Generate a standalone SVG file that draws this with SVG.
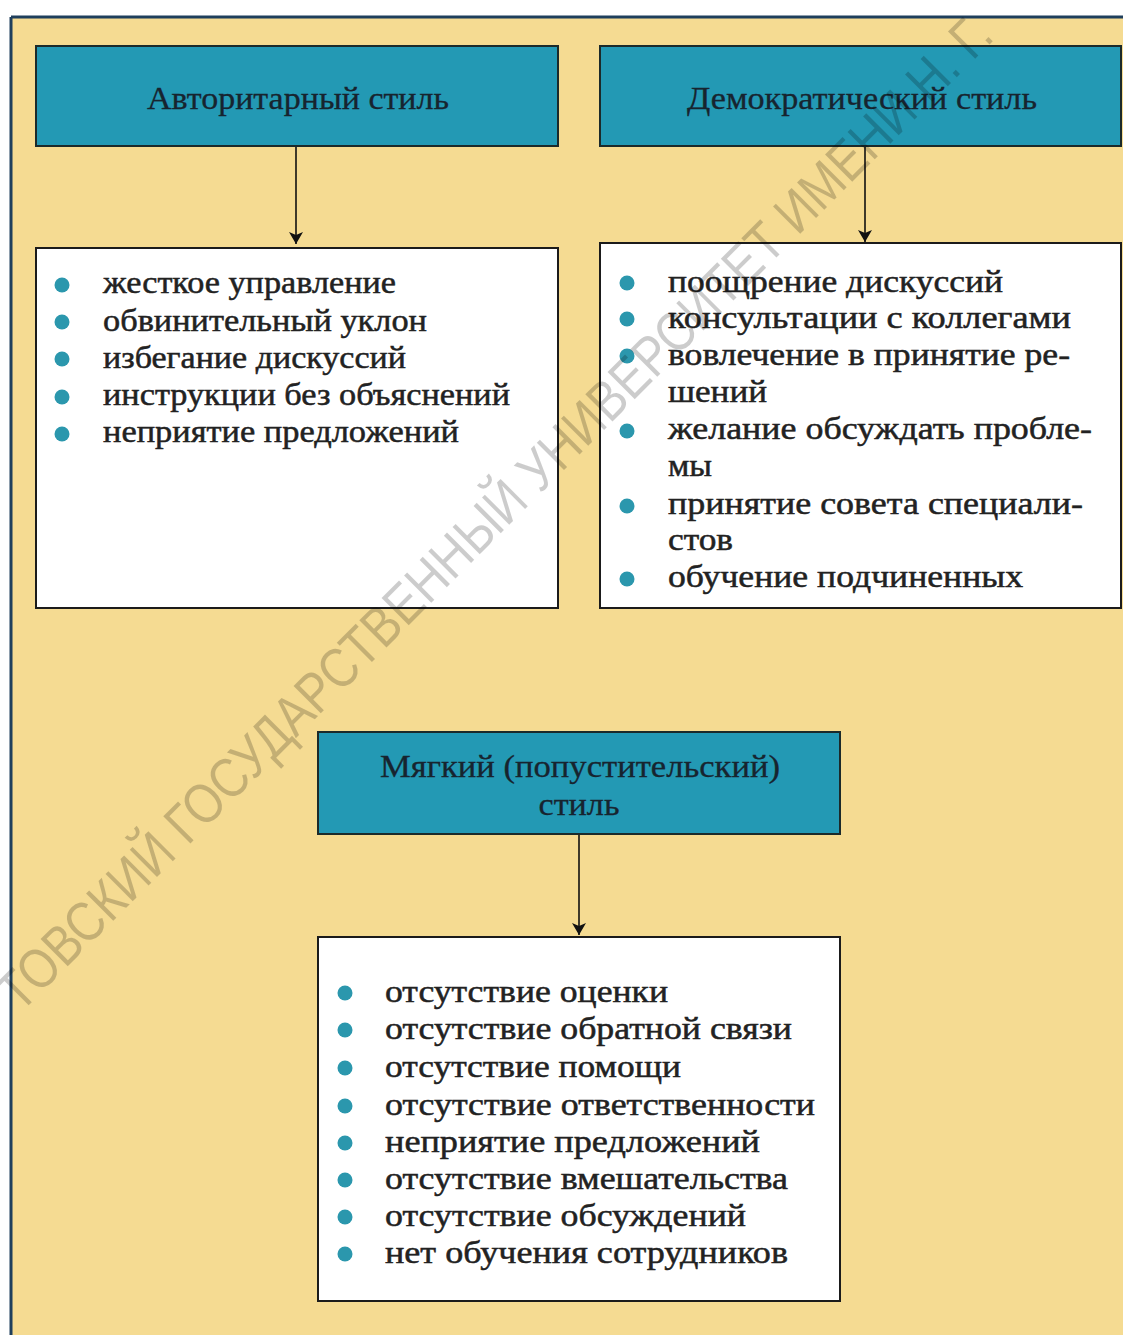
<svg xmlns="http://www.w3.org/2000/svg" width="1123" height="1335" viewBox="0 0 1123 1335">
  <style>
    .hdr { fill: #2399b4; stroke: #1b2a2a; stroke-width: 2; }
    .box { fill: #ffffff; stroke: #1b1b1b; stroke-width: 2; }
    .htxt { font-family: "Liberation Serif", "DejaVu Serif", serif; font-size: 32px; fill: #17242f; stroke: #17242f; stroke-width: 0.3; text-anchor: middle; }
    .ltxt { font-family: "Liberation Serif", "DejaVu Serif", serif; font-size: 31px; fill: #222222; stroke: #222222; stroke-width: 0.5; }
    .bul { fill: #2b97ad; }
    .conn { stroke: #111111; stroke-width: 1.6; fill: none; marker-end: url(#arr); }
    .wm { font-family: "Liberation Sans", "Open Sans", sans-serif; font-weight: normal; font-size: 56px; fill: #000000; fill-opacity: 0.2; }
  </style>
  <defs>
    <marker id="arr" viewBox="0 0 12 16" refX="12" refY="8" markerWidth="12" markerHeight="16" markerUnits="userSpaceOnUse" orient="auto">
      <path d="M0,1 L12,8 L0,15 L3,8 Z" fill="#111111"/>
    </marker>
  </defs>

  <rect x="0" y="0" width="1123" height="1335" fill="#ffffff"/>
  <rect x="11" y="17" width="1112" height="1318" fill="#f5db92"/>
  <line x1="11" y1="17" x2="1123" y2="17" stroke="#1f3f5c" stroke-width="3"/>
  <line x1="11" y1="17" x2="11" y2="1335" stroke="#1f3f5c" stroke-width="3"/>

  <g id="connectors">
    <line class="conn" x1="296" y1="147" x2="296" y2="244"/>
    <line class="conn" x1="865" y1="147" x2="865" y2="242"/>
    <line class="conn" x1="579" y1="835" x2="579" y2="935"/>
  </g>

  <g id="node-authoritarian">
    <rect class="hdr" x="36" y="46" width="522" height="100"/>
    <text class="htxt" x="298" y="109" textLength="302" lengthAdjust="spacingAndGlyphs">Авторитарный стиль</text>
  </g>

  <g id="node-democratic">
    <rect class="hdr" x="600" y="46" width="521" height="100"/>
    <text class="htxt" x="862" y="109" textLength="350" lengthAdjust="spacingAndGlyphs">Демократический стиль</text>
  </g>

  <g id="node-authoritarian-list">
    <rect class="box" x="36" y="248" width="522" height="360"/>
    <circle class="bul" cx="62" cy="285" r="7.5"/>
    <circle class="bul" cx="62" cy="322" r="7.5"/>
    <circle class="bul" cx="62" cy="359" r="7.5"/>
    <circle class="bul" cx="62" cy="397" r="7.5"/>
    <circle class="bul" cx="62" cy="434" r="7.5"/>
    <text class="ltxt" x="103" y="293" textLength="293" lengthAdjust="spacingAndGlyphs">жесткое управление</text>
    <text class="ltxt" x="103" y="331" textLength="324" lengthAdjust="spacingAndGlyphs">обвинительный уклон</text>
    <text class="ltxt" x="103" y="368" textLength="303" lengthAdjust="spacingAndGlyphs">избегание дискуссий</text>
    <text class="ltxt" x="103" y="405" textLength="407" lengthAdjust="spacingAndGlyphs">инструкции без объяснений</text>
    <text class="ltxt" x="103" y="442" textLength="356" lengthAdjust="spacingAndGlyphs">неприятие предложений</text>
  </g>

  <g id="node-democratic-list">
    <rect class="box" x="600" y="243" width="521" height="365"/>
    <circle class="bul" cx="627" cy="283" r="7.5"/>
    <circle class="bul" cx="627" cy="319" r="7.5"/>
    <circle class="bul" cx="627" cy="356" r="7.5"/>
    <circle class="bul" cx="627" cy="431" r="7.5"/>
    <circle class="bul" cx="627" cy="506" r="7.5"/>
    <circle class="bul" cx="627" cy="579" r="7.5"/>
    <text class="ltxt" x="668" y="292" textLength="335" lengthAdjust="spacingAndGlyphs">поощрение дискуссий</text>
    <text class="ltxt" x="668" y="328" textLength="403" lengthAdjust="spacingAndGlyphs">консультации с коллегами</text>
    <text class="ltxt" x="668" y="365" textLength="402" lengthAdjust="spacingAndGlyphs">вовлечение в принятие ре-</text>
    <text class="ltxt" x="668" y="402" textLength="99" lengthAdjust="spacingAndGlyphs">шений</text>
    <text class="ltxt" x="668" y="439" textLength="424" lengthAdjust="spacingAndGlyphs">желание обсуждать пробле-</text>
    <text class="ltxt" x="668" y="476" textLength="44" lengthAdjust="spacingAndGlyphs">мы</text>
    <text class="ltxt" x="668" y="514" textLength="415" lengthAdjust="spacingAndGlyphs">принятие совета специали-</text>
    <text class="ltxt" x="668" y="550" textLength="65" lengthAdjust="spacingAndGlyphs">стов</text>
    <text class="ltxt" x="668" y="587" textLength="355" lengthAdjust="spacingAndGlyphs">обучение подчиненных</text>
  </g>

  <g id="node-permissive">
    <rect class="hdr" x="318" y="732" width="522" height="102"/>
    <text class="htxt" x="580" y="777" textLength="400" lengthAdjust="spacingAndGlyphs">Мягкий (попустительский)</text>
    <text class="htxt" x="579" y="815" textLength="81" lengthAdjust="spacingAndGlyphs">стиль</text>
  </g>

  <g id="node-permissive-list">
    <rect class="box" x="318" y="937" width="522" height="364"/>
    <circle class="bul" cx="345" cy="993" r="7.5"/>
    <circle class="bul" cx="345" cy="1030" r="7.5"/>
    <circle class="bul" cx="345" cy="1068" r="7.5"/>
    <circle class="bul" cx="345" cy="1106" r="7.5"/>
    <circle class="bul" cx="345" cy="1143" r="7.5"/>
    <circle class="bul" cx="345" cy="1180" r="7.5"/>
    <circle class="bul" cx="345" cy="1217" r="7.5"/>
    <circle class="bul" cx="345" cy="1254" r="7.5"/>
    <text class="ltxt" x="385" y="1002" textLength="283" lengthAdjust="spacingAndGlyphs">отсутствие оценки</text>
    <text class="ltxt" x="385" y="1039" textLength="407" lengthAdjust="spacingAndGlyphs">отсутствие обратной связи</text>
    <text class="ltxt" x="385" y="1077" textLength="296" lengthAdjust="spacingAndGlyphs">отсутствие помощи</text>
    <text class="ltxt" x="385" y="1115" textLength="430" lengthAdjust="spacingAndGlyphs">отсутствие ответственности</text>
    <text class="ltxt" x="385" y="1152" textLength="375" lengthAdjust="spacingAndGlyphs">неприятие предложений</text>
    <text class="ltxt" x="385" y="1189" textLength="403" lengthAdjust="spacingAndGlyphs">отсутствие вмешательства</text>
    <text class="ltxt" x="385" y="1226" textLength="361" lengthAdjust="spacingAndGlyphs">отсутствие обсуждений</text>
    <text class="ltxt" x="385" y="1263" textLength="403" lengthAdjust="spacingAndGlyphs">нет обучения сотрудников</text>
  </g>

  <text class="wm" transform="translate(20,1014) rotate(-45)" x="0" y="0" textLength="1380" lengthAdjust="spacingAndGlyphs">ТОВСКИЙ ГОСУДАРСТВЕННЫЙ УНИВЕРСИТЕТ ИМЕНИ Н. Г.</text>
</svg>
